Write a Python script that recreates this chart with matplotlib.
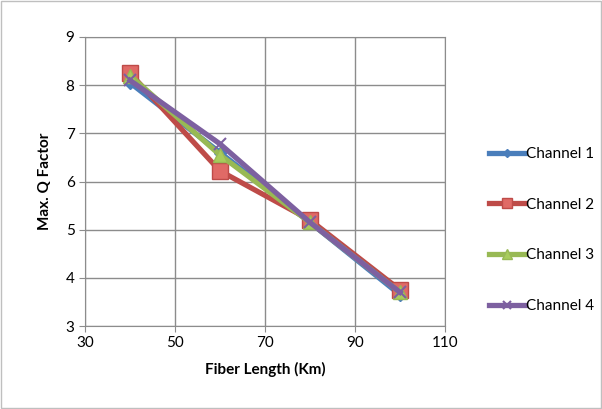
import numpy as np
import matplotlib
matplotlib.use('Agg')
import matplotlib.pyplot as plt
from matplotlib.patches import Rectangle

# Daten
fiber_length = [40, 60, 80, 100]
ch1 = [8.05, 6.6, 5.15, 3.65]
ch2 = [8.25, 6.22, 5.2, 3.75]
ch3 = [8.2, 6.55, 5.15, 3.7]
ch4 = [8.1, 6.78, 5.15, 3.7]
labels = ["Channel 1", "Channel 2", "Channel 3", "Channel 4"]

plt.rcParams['font.family'] = ['Lato', 'DejaVu Sans']

fig = plt.figure(figsize=(6.02, 4.09), dpi=100)
ax = fig.add_axes([85/602, 1 - 326/409, 360/602, 289/409])

ax.plot(fiber_length, ch1, color="#4a7ebb", lw=3.8, marker="D", ms=6,
        markerfacecolor="#4a7ebb", markeredgecolor="#4a7ebb", label=labels[0])
ax.plot(fiber_length, ch2, color="#be4b48", lw=3.8, marker="s", ms=11,
        markerfacecolor="#e06a66", markeredgecolor="#be4b48", label=labels[1])
ax.plot(fiber_length, ch3, color="#98b954", lw=3.8, marker="^", ms=10,
        markerfacecolor="#a8cc5c", markeredgecolor="#98b954", label=labels[2])
ax.plot(fiber_length, ch4, color="#7d60a0", lw=3.8, marker="x", ms=9, mew=1.5,
        label=labels[3])

ax.set_xlim(30, 110)
ax.set_ylim(3, 9)
ax.set_xticks(np.arange(30, 111, 20))
ax.set_yticks(np.arange(3, 10, 1))
ax.grid(True, color="#8c8c8c", lw=1)
ax.set_axisbelow(True)
for s in ax.spines.values():
    s.set_color("#8c8c8c")
ax.tick_params(axis='both', labelsize=11, color="#8c8c8c", length=4)

ax.set_xlabel("Fiber Length (Km)", fontsize=11, fontweight="bold", labelpad=8)
ax.set_ylabel("Max. Q Factor", fontsize=11, fontweight="bold", labelpad=10)

leg = fig.legend(loc="center left", bbox_to_anchor=(478/602, 1 - 230/409),
                 frameon=False, fontsize=11, labelspacing=2.4,
                 handlelength=2.4, handletextpad=0.05, borderpad=0.2,
                 markerscale=0.7)

fig.patches.append(Rectangle((0.002, 0.003), 0.996, 0.994, transform=fig.transFigure,
                             fill=False, edgecolor="#bfbfbf", lw=1))

fig.savefig("out.png", dpi=100)
